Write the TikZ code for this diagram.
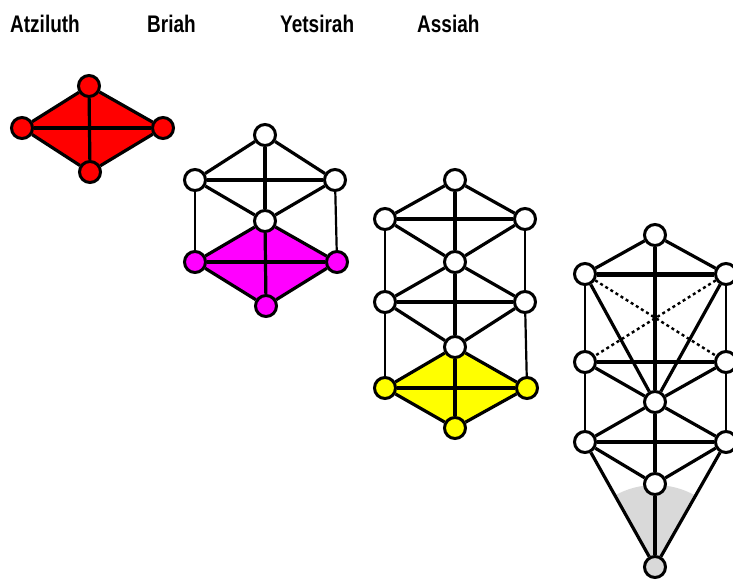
\documentclass[tikz,border=0pt]{standalone}
\usepackage{fontspec}
\setmainfont{Liberation Sans}
\usetikzlibrary{backgrounds}

\definecolor{atzred}{RGB}{255,0,0}
\definecolor{brimagenta}{RGB}{255,0,255}
\definecolor{yetyellow}{RGB}{255,255,0}
\definecolor{assgray}{RGB}{217,217,217}

\tikzset{
  sephira/.style={circle,draw,line width=3pt,minimum size=21pt,inner sep=0pt,fill=white},
  link/.style={line width=3.2pt},
  thinlink/.style={line width=2.2pt},
  heavylink/.style={line width=5pt},
  hidden/.style={line width=2.4pt,dash pattern=on 3pt off 3pt},
  world/.style={anchor=base west,inner sep=0pt,font=\bfseries\fontsize{20}{20}\selectfont}
}

\begin{document}
\begin{tikzpicture}[x=1pt,y=-1pt]
\useasboundingbox (0,0) rectangle (733,581);
\clip (0,0) rectangle (733,581);

% titles
\node[world] (tAtz) at (10,32) {\scalebox{0.95}[1.2]{Atziluth}};
\node[world] (tBri) at (147,32) {\scalebox{0.95}[1.2]{Briah}};
\node[world] (tYet) at (280,32) {\scalebox{0.95}[1.2]{Yetsirah}};
\node[world] (tAss) at (417,32) {\scalebox{0.95}[1.2]{Assiah}};

% Atziluth
\node[sephira,fill=atzred] (atT) at (89,86) {};
\node[sephira,fill=atzred] (atL) at (22,128) {};
\node[sephira,fill=atzred] (atR) at (163,128) {};
\node[sephira,fill=atzred] (atB) at (90,172) {};
\begin{pgfonlayer}{background}
  \fill[atzred] (atT.center) -- (atR.center) -- (atB.center) -- (atL.center) -- cycle;
\end{pgfonlayer}
\draw[link] (atT) -- (atB);
\draw[link] (atL) -- (atR);
\draw[link] (atT) -- (atL) -- (atB) -- (atR) -- (atT);

% Briah
\node[sephira] (brT) at (265,135) {};
\node[sephira] (brL) at (195,180) {};
\node[sephira] (brR) at (335,180) {};
\node[sephira] (brM) at (265,221) {};
\node[sephira,fill=brimagenta] (brPL) at (195,262) {};
\node[sephira,fill=brimagenta] (brPR) at (337,262) {};
\node[sephira,fill=brimagenta] (brB) at (266,306) {};
\begin{pgfonlayer}{background}
  \fill[brimagenta] (brM.center) -- (brPR.center) -- (brB.center) -- (brPL.center) -- cycle;
\end{pgfonlayer}
\draw[link] (brT) -- (brL);
\draw[link] (brT) -- (brR);
\draw[link] (brL) -- (brR);
\draw[link] (brT) -- (brM);
\draw[link] (brM) -- (brB);
\draw[link] (brL) -- (brM);
\draw[link] (brR) -- (brM);
\draw[thinlink] (brL) -- (brPL);
\draw[thinlink] (brR) -- (brPR);
\draw[link] (brM) -- (brPL);
\draw[link] (brM) -- (brPR);
\draw[link] (brPL) -- (brPR);
\draw[link] (brPL) -- (brB);
\draw[link] (brPR) -- (brB);

% Yetsirah
\node[sephira] (yeT) at (455,180) {};
\node[sephira] (yeUL) at (385,219) {};
\node[sephira] (yeUR) at (525,219) {};
\node[sephira] (yeC) at (455,262) {};
\node[sephira] (yeML) at (385,302) {};
\node[sephira] (yeMR) at (525,302) {};
\node[sephira] (yeLC) at (455,347) {};
\node[sephira,fill=yetyellow] (yeYL) at (385,388) {};
\node[sephira,fill=yetyellow] (yeYR) at (527,388) {};
\node[sephira,fill=yetyellow] (yeB) at (455,428) {};
\begin{pgfonlayer}{background}
  \fill[yetyellow] (yeLC.center) -- (yeYR.center) -- (yeB.center) -- (yeYL.center) -- cycle;
\end{pgfonlayer}
\draw[link] (yeT) -- (yeUL);
\draw[link] (yeT) -- (yeUR);
\draw[link] (yeUL) -- (yeUR);
\draw[link] (yeT) -- (yeC);
\draw[link] (yeC) -- (yeLC);
\draw[link] (yeLC) -- (yeB);
\draw[link] (yeUL) -- (yeC);
\draw[link] (yeUR) -- (yeC);
\draw[thinlink] (yeUL) -- (yeML);
\draw[thinlink] (yeUR) -- (yeMR);
\draw[link] (yeC) -- (yeML);
\draw[link] (yeC) -- (yeMR);
\draw[link] (yeML) -- (yeMR);
\draw[link] (yeML) -- (yeLC);
\draw[link] (yeMR) -- (yeLC);
\draw[thinlink] (yeML) -- (yeYL);
\draw[thinlink] (yeMR) -- (yeYR);
\draw[link] (yeLC) -- (yeYL);
\draw[link] (yeLC) -- (yeYR);
\draw[link] (yeYL) -- (yeYR);
\draw[link] (yeYL) -- (yeB);
\draw[link] (yeYR) -- (yeB);

% Assiah
\node[sephira] (asT) at (655,235) {};
\node[sephira] (asUL) at (585,274) {};
\node[sephira] (asUR) at (726,274) {};
\node[sephira] (asML) at (585,362) {};
\node[sephira] (asMR) at (726,362) {};
\node[sephira] (asC) at (655,402) {};
\node[sephira] (asLL) at (585,442) {};
\node[sephira] (asLR) at (726,442) {};
\node[sephira] (asY) at (655,484) {};
\node[sephira,fill=assgray] (asB) at (655,567) {};
\begin{pgfonlayer}{background}
  \begin{scope}
    \clip (asB.center) -- (asLL.center) -- (asLR.center) -- cycle;
    \fill[assgray] (asB.center) circle (82pt);
  \end{scope}
\end{pgfonlayer}
\draw[link] (asT) -- (asUL);
\draw[link] (asT) -- (asUR);
\draw[heavylink] (asUL) -- (asUR);
\draw[link] (asT) -- (asC);
\draw[hidden] (asUL) -- (asMR);
\draw[hidden] (asUR) -- (asML);
\draw[link] (asUL) -- (asC);
\draw[link] (asUR) -- (asC);
\draw[thinlink] (asUL) -- (asML);
\draw[thinlink] (asUR) -- (asMR);
\draw[link] (asML) -- (asMR);
\draw[link] (asML) -- (asC);
\draw[link] (asMR) -- (asC);
\draw[thinlink] (asML) -- (asLL);
\draw[thinlink] (asMR) -- (asLR);
\draw[link] (asC) -- (asLL);
\draw[link] (asC) -- (asLR);
\draw[link] (asLL) -- (asLR);
\draw[link] (asC) -- (asY);
\draw[link] (asLL) -- (asY);
\draw[link] (asLR) -- (asY);
\draw[link] (asY) -- (asB);
\draw[link] (asLL) -- (asB);
\draw[link] (asLR) -- (asB);
\end{tikzpicture}
\end{document}
